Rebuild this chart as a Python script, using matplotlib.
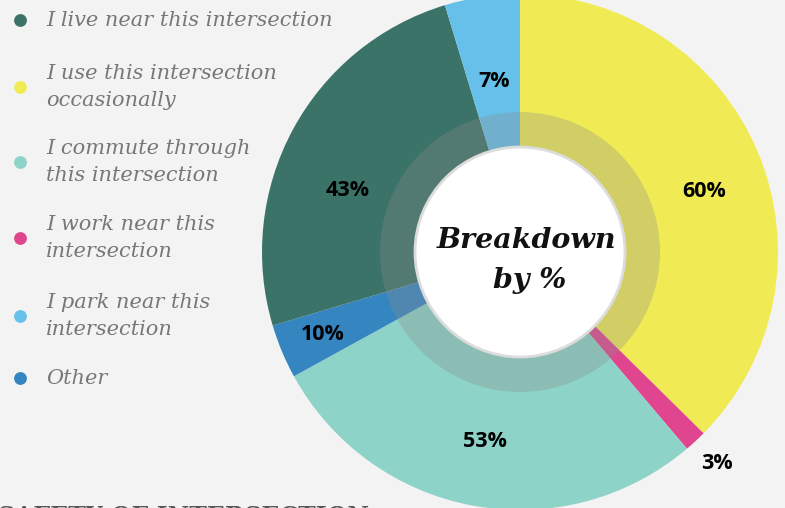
import matplotlib.pyplot as plt
from matplotlib.patches import Circle
import numpy as np

# slices, clockwise from the top
categories = ['use', 'work', 'commute', 'other', 'live', 'park']
shares = [37.4, 1.4, 28.2, 3.4, 24.9, 4.7]
pct_labels = ['60%', '3%', '53%', '10%', '43%', '7%']
colors = ['#f0eb55', '#e0468f', '#8dd3c7', '#3585c0', '#3b7368', '#66c0ea']

legend_labels = ['I live near this intersection',
                 'I use this intersection\noccasionally',
                 'I commute through\nthis intersection',
                 'I work near this\nintersection',
                 'I park near this\nintersection',
                 'Other']
legend_colors = ['#3b7368', '#f0eb55', '#8dd3c7', '#e0468f', '#66c0ea', '#3585c0']

W, H = 785, 508
BG = '#f3f3f3'
cx, cy, R = 520, H - 252, 258

fig = plt.figure(figsize=(W / 100, H / 100), dpi=100, facecolor=BG)
ax = fig.add_axes([0, 0, 1, 1])

wedges, _ = ax.pie(shares, colors=colors, startangle=90, counterclock=False,
                   center=(cx, cy), radius=R, frame=True)
ax.set_xlim(0, W)
ax.set_ylim(0, H)
ax.set_aspect('equal')
ax.axis('off')

# grey translucent ring + white hole
ax.add_patch(Circle((cx, cy), 140, color='#8c8c8c', alpha=0.3, lw=0))
ax.add_patch(Circle((cx, cy), 105, facecolor='white', edgecolor='#dcdcdc', lw=2))
ax.text(cx + 6, cy + 12, 'Breakdown', ha='center', va='center', fontsize=20.5,
        family='DejaVu Serif', style='italic', weight='bold', color='#111111')
ax.text(cx + 10, cy - 28, 'by %', ha='center', va='center', fontsize=20.5,
        family='DejaVu Serif', style='italic', weight='bold', color='#111111')

# percentage labels (distance in radii, angle nudge in degrees)
label_dist = [0.75, 1.12, 0.745, 0.83, 0.71, 0.67]
label_nudge = [-4.6, 0, 0, 0, 8.7, 0]
for w, lab, d, n in zip(wedges, pct_labels, label_dist, label_nudge):
    ang = np.deg2rad((w.theta1 + w.theta2) / 2 + n)
    ax.text(cx + d * R * np.cos(ang), cy + d * R * np.sin(ang), lab,
            ha='center', va='center', fontsize=15.5, family='Open Sans',
            weight='bold', color='black')

# legend
item_y = [20, 87, 162, 238, 316, 378]
for lab, c, y in zip(legend_labels, legend_colors, item_y):
    ax.scatter([20], [H - y], s=85, color=c, lw=0)
    ax.text(46, H - y, lab, ha='left', va='center', fontsize=15,
            family='DejaVu Serif', style='italic', color='#777777',
            linespacing=1.55)

# heading cut off at the bottom
ax.text(-2, H - 505, 'SAFETY OF INTERSECTION', ha='left', va='top',
        fontsize=17, family='DejaVu Serif', weight='bold', color='#555555')

fig.savefig('out.png', dpi=100, facecolor=BG)
